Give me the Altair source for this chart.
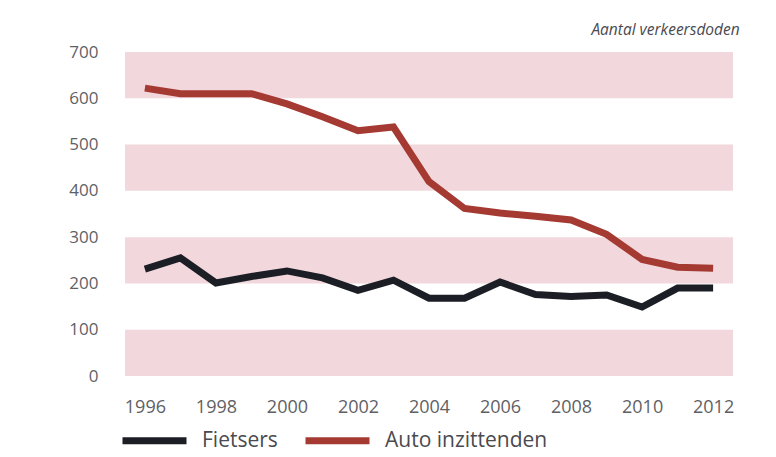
import altair as alt
import pandas as pd

years = list(range(1996, 2013))
fietsers = [231, 255, 201, 215, 227, 212, 185, 207, 168, 168, 203, 176, 172, 175, 149, 190, 190]
auto = [622, 610, 610, 610, 588, 560, 530, 538, 420, 362, 352, 345, 337, 306, 252, 235, 233]
series_names = ["Fietsers", "Auto inzittenden"]
series_colors = ["#1b1e25", "#a53a33"]
band_starts = [0, 200, 400, 600]
band_size = 100
y_ticks = [0, 100, 200, 300, 400, 500, 600, 700]
x_ticks = list(range(1996, 2013, 2))
title_text = "Aantal verkeersdoden"

W, H = 608, 324
FONT = "Open Sans"

rows = []
for y, f, a in zip(years, fietsers, auto):
    rows.append({"jaar": y, "serie": series_names[0], "waarde": f})
    rows.append({"jaar": y, "serie": series_names[1], "waarde": a})
df = pd.DataFrame(rows)
bands = pd.DataFrame({"y0": band_starts, "y1": [b + band_size for b in band_starts]})

xscale = alt.Scale(domain=[1995.44, 2012.56], nice=False, zero=False)
yscale = alt.Scale(domain=[0, 700], nice=False)

band_layer = alt.Chart(bands).mark_rect(color="#f2d8dd").encode(
    y=alt.Y("y0:Q", scale=yscale, axis=alt.Axis(
        values=y_ticks, title=None, domain=False, ticks=False, grid=False,
        labelFont=FONT, labelFontSize=17, labelColor="#5f5f66", labelPadding=27)),
    y2="y1:Q",
    x=alt.value(0),
    x2=alt.value(W),
)

lines = alt.Chart(df).mark_line(strokeWidth=7, strokeJoin="miter").encode(
    x=alt.X("jaar:Q", scale=xscale, axis=alt.Axis(
        values=x_ticks, format="d", title=None, domain=False, ticks=False, grid=False,
        labelFont=FONT, labelFontSize=18, labelColor="#5f5f66", labelPadding=22)),
    y=alt.Y("waarde:Q", scale=yscale),
    color=alt.Color("serie:N", scale=alt.Scale(domain=series_names, range=series_colors),
                    legend=alt.Legend(
                        title=None, orient="none", direction="horizontal",
                        legendX=18, legendY=377,
                        symbolType="M-4,0H4", symbolSize=256, symbolStrokeWidth=7,
                        labelFont=FONT, labelFontSize=21, labelColor="#4a4a50",
                        labelLimit=400, labelOffset=36, columnPadding=13)),
)

chart = alt.layer(band_layer, lines).properties(
    width=W, height=H,
    title=alt.TitleParams(title_text, anchor="end", fontStyle="italic", font=FONT,
                          fontSize=15.5, fontWeight="normal", color="#4a4a50",
                          offset=5, dx=6),
    autosize=alt.AutoSizeParams(type="none"),
    padding={"left": 117, "top": 44, "right": 35, "bottom": 77},
    background="white",
).configure_view(stroke=None)

chart.save("out.html", embed_options={"renderer": "svg", "actions": False})
